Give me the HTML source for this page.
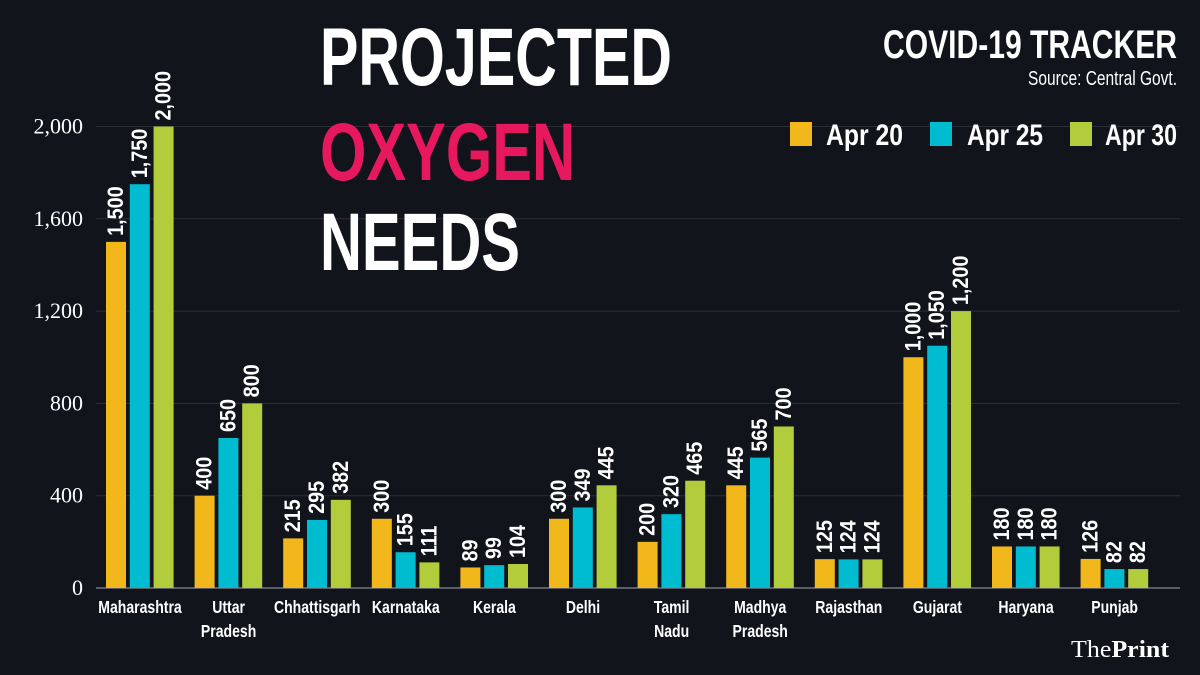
<!DOCTYPE html>
<html><head><meta charset="utf-8"><style>
html,body{margin:0;padding:0;background:#12141c;}
svg{display:block;}
text{font-family:"Liberation Sans Narrow","Liberation Sans",sans-serif;}
text.serif{font-family:"Liberation Serif",serif;}
</style></head><body>
<svg id="c" width="1200" height="675" viewBox="0 0 1200 675" xmlns="http://www.w3.org/2000/svg">
<rect width="1200" height="675" fill="#12141c"/>
<g id="grid"></g>
<g id="bars"></g>
<text x="320" y="85" font-size="82" font-weight="bold" fill="#fff" textLength="352" lengthAdjust="spacingAndGlyphs">PROJECTED</text>
<text x="320" y="180" font-size="82" font-weight="bold" fill="#e8185f" textLength="255" lengthAdjust="spacingAndGlyphs">OXYGEN</text>
<text x="320" y="270" font-size="82" font-weight="bold" fill="#fff" textLength="200" lengthAdjust="spacingAndGlyphs">NEEDS</text>
<text x="1177" y="58" text-anchor="end" font-size="40" font-weight="bold" fill="#fff" textLength="294" lengthAdjust="spacingAndGlyphs">COVID-19 TRACKER</text>
<text x="1177" y="85" text-anchor="end" font-size="20" fill="#fff" textLength="149" lengthAdjust="spacingAndGlyphs">Source: Central Govt.</text>
<g>
<rect x="790" y="122" width="22" height="24" fill="#f2b81b"/>
<text x="826" y="145" font-size="30" font-weight="bold" fill="#fff" textLength="77" lengthAdjust="spacingAndGlyphs">Apr 20</text>
<rect x="930" y="122" width="22" height="24" fill="#00bcd1"/>
<text x="967" y="145" font-size="30" font-weight="bold" fill="#fff" textLength="76" lengthAdjust="spacingAndGlyphs">Apr 25</text>
<rect x="1070" y="122" width="22" height="24" fill="#b3cc3b"/>
<text x="1105" y="145" font-size="30" font-weight="bold" fill="#fff" textLength="72" lengthAdjust="spacingAndGlyphs">Apr 30</text>
</g>
<text class="serif" x="1071" y="657" font-size="24" fill="#fff" textLength="98" lengthAdjust="spacingAndGlyphs">The<tspan font-weight="bold">Print</tspan></text>
</svg>
<script>
const categories=[["Maharashtra"],["Uttar","Pradesh"],["Chhattisgarh"],["Karnataka"],["Kerala"],["Delhi"],["Tamil","Nadu"],["Madhya","Pradesh"],["Rajasthan"],["Gujarat"],["Haryana"],["Punjab"]];
const apr20=[1500,400,215,300,89,300,200,445,125,1000,180,126];
const apr25=[1750,650,295,155,99,349,320,565,124,1050,180,82];
const apr30=[2000,800,382,111,104,445,465,700,124,1200,180,82];
const yTicks=[0,400,800,1200,1600,2000];
const seriesNames=["apr20","apr25","apr30"];
const NS="http://www.w3.org/2000/svg";
const y0=588,y1=126.5,vmax=2000;
function yScale(v){return y0-(v/vmax)*(y0-y1);}
function xGroup(i){return 106+i*88.6;}
const colors=["#f2b81b","#00bcd1","#b3cc3b"];
const grid=document.getElementById('grid'),bars=document.getElementById('bars');
function mk(tag,attrs,parent){const e=document.createElementNS(NS,tag);for(const k in attrs)e.setAttribute(k,attrs[k]);parent.appendChild(e);return e;}
yTicks.forEach(t=>{
  const y=yScale(t);
  const l=mk('line',{x1:96,x2:1180,y1:y,y2:y,stroke:t===0?'#5a5d66':'#2c2f38','stroke-width':t===0?2:1},grid);
  
  
  const tx=mk('text',{class:'serif',x:83,y:y+7,'text-anchor':'end','font-size':22,fill:'#fff'},grid);
  tx.textContent=t.toLocaleString('en-US');
  
  
});
const series=[apr20,apr25,apr30];
categories.forEach((c,i)=>{
  const gx=xGroup(i);
  series.forEach((s,j)=>{
    const x=gx+j*23.8,w=20,y=yScale(s[i]);
    const r=mk('rect',{x:x,y:y,width:w,height:y0-y,fill:colors[j]},bars);
    
    
    const cx=x+w/2+7,cy=y-6;
    const t=mk('text',{x:0,y:0,transform:`translate(${cx} ${cy}) rotate(-90) scale(0.9 1)`,'font-size':22,'font-weight':'bold',fill:'#fff'},bars);
    t.textContent=s[i].toLocaleString('en-US');
    
    
  });
  const lx=gx+34;
  c.forEach((line,k)=>{
    const t=mk('text',{x:0,y:0,transform:`translate(${lx} ${613+k*24}) scale(0.78 1)`,'text-anchor':'middle','font-size':18,'font-weight':'bold',fill:'#fff'},bars);
    t.textContent=line;
    
    
  });
});
</script>
</body></html>
